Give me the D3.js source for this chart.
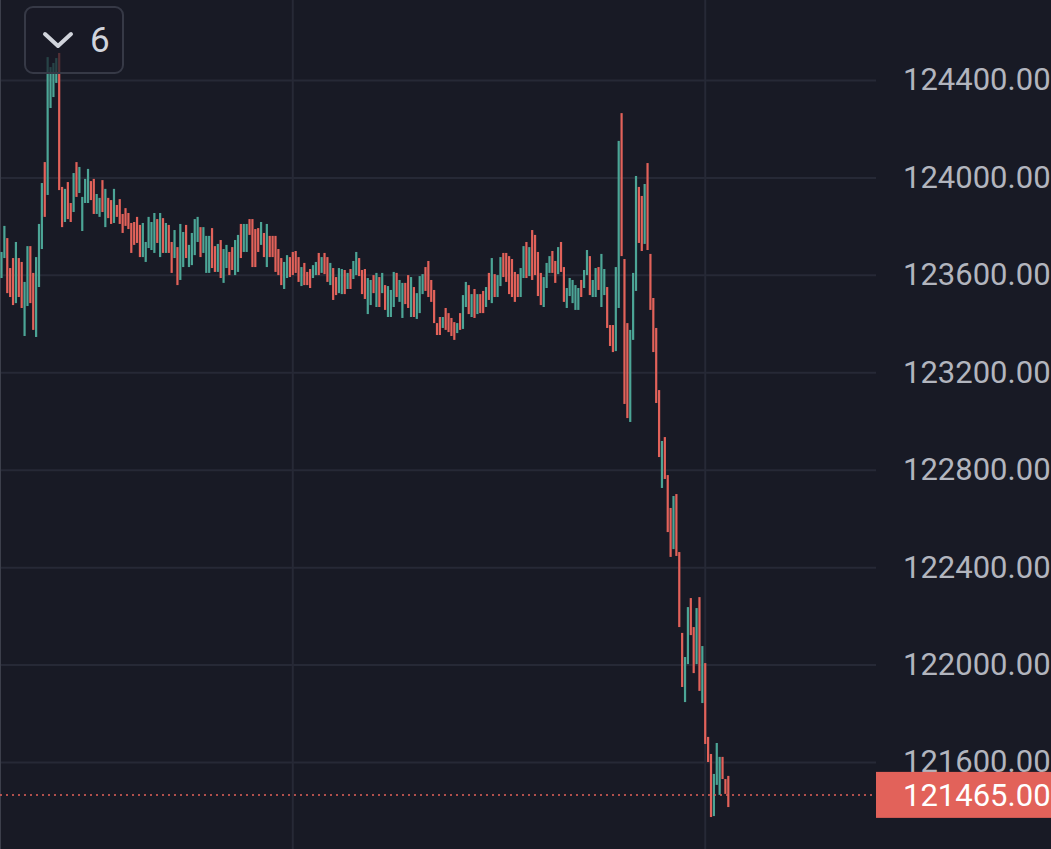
<!DOCTYPE html>
<html>
<head>
<meta charset="utf-8">
<script src="https://cdn.jsdelivr.net/npm/d3@7"></script>
<style>
  html, body { margin: 0; padding: 0; background: #181a25; overflow: hidden; }
  svg { display: block; }
</style>
</head>
<body>
<div id="chart"></div>
<script>
// bar highs / lows, oldest first
const highs = [
  123694,123801,123751,123628,123669,123735,123669,123653,123571,123718,
  123718,123608,123673,123809,123977,124063,124494,124453,124470,124490,
  124511,123961,123953,123981,123895,124018,124063,124043,123920,123994,
  124035,123985,123994,123932,123916,123989,123953,123916,123907,123953,
  123887,123911,123850,123874,123854,123813,123817,123838,123805,123813,
  123735,123838,123817,123854,123829,123854,123833,123813,123805,123735,
  123784,123714,123809,123776,123805,123723,123772,123829,123838,123796,
  123796,123760,123760,123792,123718,123727,123743,123706,123723,123694,
  123714,123743,123764,123809,123809,123809,123829,123829,123788,123792,
  123817,123772,123809,123760,123760,123760,123706,123669,123653,123681,
  123673,123694,123698,123673,123632,123649,123612,123624,123640,123653,
  123690,123673,123690,123673,123649,123628,123591,123628,123624,123620,
  123608,123624,123657,123694,123669,123620,123624,123587,123579,123599,
  123608,123591,123608,123558,123554,123538,123612,123608,123579,123567,
  123567,123599,123591,123550,123525,123595,123603,123632,123657,123579,
  123538,123402,123427,123427,123464,123443,123423,123406,123402,123443,
  123517,123571,123558,123521,123542,123521,123521,123534,123550,123608,
  123669,123603,123599,123673,123690,123690,123677,123665,123612,123603,
  123628,123718,123735,123714,123784,123764,123694,123608,123591,123649,
  123677,123698,123657,123714,123735,123632,123546,123587,123579,123558,
  123546,123579,123620,123702,123677,123579,123628,123632,123686,123624,
  123550,123394,123394,123632,124150,124264,123665,123402,123374,123608,
  124006,123961,123924,123973,124059,123686,123505,123382,123127,122918,
  122934,122778,122643,122692,122700,122462,122130,122031,122236,122273,
  122154,122232,122277,122076,122006,121703,121633,121551,121678,121621,
  121621,121530,121543
];
const lows = [
  123587,123669,123525,123509,123476,123484,123509,123464,123349,123472,
  123484,123374,123345,123550,123706,123838,123928,124285,124330,124388,
  123948,123796,123817,123829,123817,123858,123920,123936,123780,123895,
  123895,123907,123850,123850,123838,123858,123796,123833,123809,123813,
  123838,123809,123772,123801,123788,123690,123723,123731,123673,123673,
  123653,123710,123702,123690,123731,123673,123690,123690,123690,123608,
  123669,123558,123579,123632,123669,123632,123640,123681,123735,123673,
  123690,123608,123608,123628,123612,123612,123587,123567,123628,123599,
  123620,123599,123612,123669,123694,123694,123764,123632,123632,123694,
  123723,123673,123632,123673,123673,123612,123599,123558,123542,123587,
  123591,123599,123608,123571,123554,123558,123558,123546,123587,123599,
  123599,123608,123603,123571,123558,123497,123517,123525,123521,123521,
  123542,123542,123583,123599,123595,123521,123501,123439,123476,123525,
  123468,123468,123525,123456,123427,123427,123468,123509,123489,123423,
  123480,123464,123427,123427,123419,123443,123521,123534,123509,123489,
  123402,123353,123353,123382,123374,123365,123349,123333,123361,123374,
  123378,123468,123439,123427,123423,123439,123443,123443,123468,123497,
  123484,123509,123509,123554,123591,123571,123521,123509,123489,123509,
  123509,123587,123587,123595,123579,123599,123513,123476,123468,123546,
  123608,123608,123567,123603,123612,123489,123464,123513,123484,123456,
  123456,123509,123546,123599,123517,123509,123509,123538,123468,123517,
  123382,123308,123283,123287,123464,123677,123070,123012,122996,123333,
  123534,123731,123698,123727,123702,123456,123283,123074,122852,122725,
  122762,122544,122442,122474,122446,122154,121908,121846,122002,122121,
  121965,122002,121892,121842,121674,121600,121374,121378,121506,121465,
  121530,121469,121415
];
// T = closed up, R = closed down
const directions = (
  "TTRRRTRRTT" + "RRTTTRTTTT" + "RRTRRTRTTT" + "TRRTTRTRRT" + "RRRRRRRRRT" +
  "TTTTRTRTRR" + "TRTTRTTTTR" + "TTTRRTRTTR" + "RTTRTTRRRR" + "TRTRRRRRTT" +
  "RRRRTRRRTT" + "RTRRTRRTTR" + "TRTTRRRTTR" + "TRTRTTTRTT" + "RRTRTTTRRR" +
  "RRRTRRRRTR" + "TTRTRTRRTR" + "TRTTRRRRRR" + "TTRTRRRRTT" + "TRRTRRTTTT" +
  "TRTTRTTRTT" + "RRRTTRRRTT" + "TRRTRRRRRT" + "RRRTRRRTTR" + "RTRTRRRTTT" +
  "RRR"
).split("");

const priceTicks = [121600, 122000, 122400, 122800, 123200, 123600, 124000, 124400];
const timeGridBars = [101, 244];
const lastPrice = 121465;
const intervalLabel = "6";

const W = 1051, H = 849;
const plotRight = 876;
const upColor = "#4ca596", downColor = "#e2625a";
const bg = "#181a25", gridColor = "#262936";

const svg = d3.select("#chart").append("svg")
  .attr("width", W)
  .attr("height", H)
  .style("background", bg);

const x = d3.scaleLinear()
  .domain([0, highs.length - 1])
  .range([1.5, 728.3]);

const y = d3.scaleLinear()
  .domain([121600, 124400])
  .range([762, 80]);

// price axis + horizontal grid
const yAxis = svg.append("g")
  .attr("transform", `translate(${plotRight},0)`)
  .call(d3.axisRight(y)
    .tickValues(priceTicks)
    .tickSize(-plotRight)
    .tickPadding(27)
    .tickFormat(d => d.toFixed(2)));
yAxis.select(".domain").remove();
yAxis.selectAll("line").attr("stroke", gridColor).attr("stroke-width", 2);
yAxis.selectAll("text")
  .attr("fill", "#b2b5be")
  .style("font-family", "Roboto, sans-serif")
  .style("font-size", "31px");

// vertical grid
svg.append("g")
  .selectAll("line")
  .data(timeGridBars)
  .join("line")
  .attr("x1", d => x(d)).attr("x2", d => x(d))
  .attr("y1", 0).attr("y2", H)
  .attr("stroke", gridColor)
  .attr("stroke-width", 2);

// left border
svg.append("line")
  .attr("x1", 0.5).attr("x2", 0.5)
  .attr("y1", 0).attr("y2", H)
  .attr("stroke", "#3c3f4b");

// bars
svg.append("g")
  .selectAll("rect")
  .data(highs.map((h, i) => ({ i, h, l: lows[i], d: directions[i] })))
  .join("rect")
  .attr("x", d => x(d.i) - 1.1)
  .attr("width", 2.2)
  .attr("y", d => y(d.h))
  .attr("height", d => Math.max(1, y(d.l) - y(d.h)))
  .attr("fill", d => d.d === "T" ? upColor : downColor);

// last price line + label
svg.append("line")
  .attr("x1", 0).attr("x2", plotRight)
  .attr("y1", y(lastPrice)).attr("y2", y(lastPrice))
  .attr("stroke", downColor)
  .attr("stroke-width", 1.5)
  .attr("stroke-dasharray", "2,4");

svg.append("rect")
  .attr("x", plotRight)
  .attr("y", y(lastPrice) - 23)
  .attr("width", W - plotRight)
  .attr("height", 46)
  .attr("fill", downColor);

svg.append("text")
  .attr("x", plotRight + 27)
  .attr("y", y(lastPrice))
  .attr("dy", "0.355em")
  .attr("fill", "#ffffff")
  .style("font-family", "Roboto, sans-serif")
  .style("font-size", "31px")
  .text(lastPrice.toFixed(2));

// interval widget top-left
const widget = svg.append("g");
widget.append("rect")
  .attr("x", 25).attr("y", 7)
  .attr("width", 98).attr("height", 66)
  .attr("rx", 8)
  .attr("fill", bg).attr("fill-opacity", 0.7)
  .attr("stroke", "#363946").attr("stroke-width", 2);
widget.append("polyline")
  .attr("points", "45,34 58,46 71,34")
  .attr("fill", "none")
  .attr("stroke", "#d1d4dc")
  .attr("stroke-width", 4)
  .attr("stroke-linecap", "round")
  .attr("stroke-linejoin", "round");
widget.append("text")
  .attr("x", 90).attr("y", 52)
  .attr("fill", "#d1d4dc")
  .style("font-family", "Roboto, sans-serif")
  .style("font-size", "35px")
  .text(intervalLabel);
</script>
</body>
</html>
